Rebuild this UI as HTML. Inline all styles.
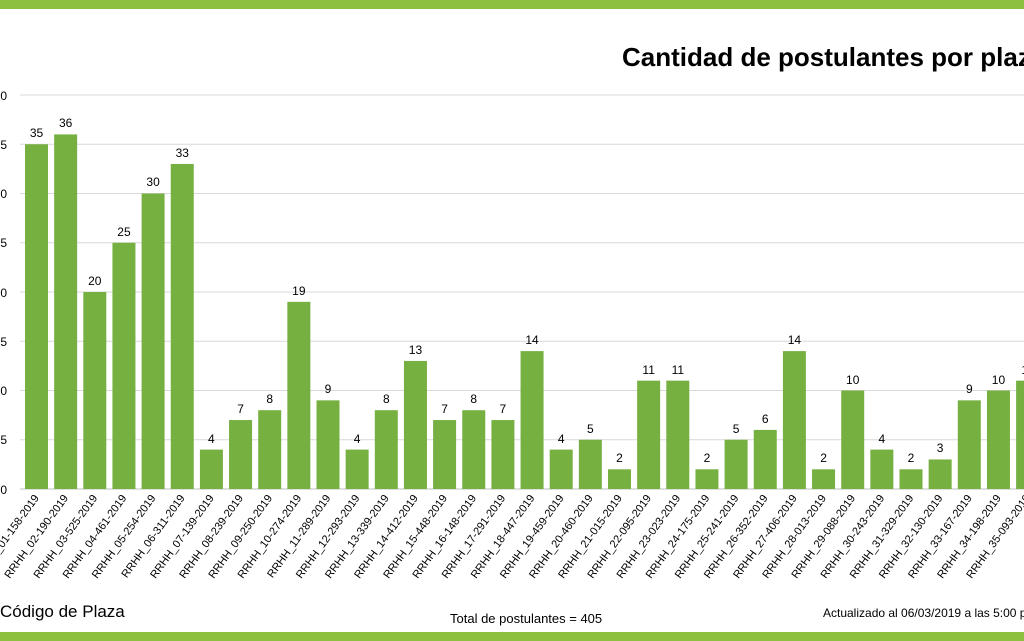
<!DOCTYPE html>
<html><head><meta charset="utf-8"><style>
body{margin:0;background:#fff;}
svg{display:block;font-family:"Liberation Sans","DejaVu Sans",sans-serif;}
</style></head><body>
<svg width="1024" height="641" viewBox="0 0 1024 641" xmlns="http://www.w3.org/2000/svg">
<rect x="0" y="0" width="1024" height="9" fill="#8dc03f"/>
<rect x="0" y="632" width="1024" height="9" fill="#8dc03f"/>
<text x="622" y="66" font-size="26" font-weight="bold" fill="#000">Cantidad de postulantes por plaza</text>
<g stroke="#d9d9d9" stroke-width="1">
<line x1="20" x2="1024" y1="95" y2="95"/>
<line x1="20" x2="1024" y1="144.25" y2="144.25"/>
<line x1="20" x2="1024" y1="193.5" y2="193.5"/>
<line x1="20" x2="1024" y1="242.75" y2="242.75"/>
<line x1="20" x2="1024" y1="292" y2="292"/>
<line x1="20" x2="1024" y1="341.25" y2="341.25"/>
<line x1="20" x2="1024" y1="390.5" y2="390.5"/>
<line x1="20" x2="1024" y1="439.75" y2="439.75"/>
<line x1="20" x2="1024" y1="489" y2="489" stroke="#bfbfbf"/>
</g>
<g font-size="12" text-anchor="end" fill="#000">
<text x="7" y="100">40</text><text x="7" y="149">35</text><text x="7" y="198">30</text>
<text x="7" y="247">25</text><text x="7" y="297">20</text><text x="7" y="346">15</text>
<text x="7" y="395">10</text><text x="7" y="444">5</text><text x="7" y="494">0</text>
</g>
<g transform="translate(0,489) scale(1,-9.85)" fill="#76b041">
<rect x="25" y="0" width="23" height="35"/>
<rect x="54.15" y="0" width="23" height="36"/>
<rect x="83.3" y="0" width="23" height="20"/>
<rect x="112.45" y="0" width="23" height="25"/>
<rect x="141.6" y="0" width="23" height="30"/>
<rect x="170.75" y="0" width="23" height="33"/>
<rect x="199.9" y="0" width="23" height="4"/>
<rect x="229.05" y="0" width="23" height="7"/>
<rect x="258.2" y="0" width="23" height="8"/>
<rect x="287.35" y="0" width="23" height="19"/>
<rect x="316.5" y="0" width="23" height="9"/>
<rect x="345.65" y="0" width="23" height="4"/>
<rect x="374.8" y="0" width="23" height="8"/>
<rect x="403.95" y="0" width="23" height="13"/>
<rect x="433.1" y="0" width="23" height="7"/>
<rect x="462.25" y="0" width="23" height="8"/>
<rect x="491.4" y="0" width="23" height="7"/>
<rect x="520.55" y="0" width="23" height="14"/>
<rect x="549.7" y="0" width="23" height="4"/>
<rect x="578.85" y="0" width="23" height="5"/>
<rect x="608" y="0" width="23" height="2"/>
<rect x="637.15" y="0" width="23" height="11"/>
<rect x="666.3" y="0" width="23" height="11"/>
<rect x="695.45" y="0" width="23" height="2"/>
<rect x="724.6" y="0" width="23" height="5"/>
<rect x="753.75" y="0" width="23" height="6"/>
<rect x="782.9" y="0" width="23" height="14"/>
<rect x="812.05" y="0" width="23" height="2"/>
<rect x="841.2" y="0" width="23" height="10"/>
<rect x="870.35" y="0" width="23" height="4"/>
<rect x="899.5" y="0" width="23" height="2"/>
<rect x="928.65" y="0" width="23" height="3"/>
<rect x="957.8" y="0" width="23" height="9"/>
<rect x="986.95" y="0" width="23" height="10"/>
<rect x="1016.1" y="0" width="23" height="11"/>
</g>
<g font-size="12" text-anchor="middle" fill="#000">
<text x="36.5" y="137">35</text>
<text x="65.65" y="127">36</text>
<text x="94.8" y="285">20</text>
<text x="123.95" y="236">25</text>
<text x="153.1" y="186">30</text>
<text x="182.25" y="157">33</text>
<text x="211.4" y="443">4</text>
<text x="240.55" y="413">7</text>
<text x="269.7" y="403">8</text>
<text x="298.85" y="295">19</text>
<text x="328" y="393">9</text>
<text x="357.15" y="443">4</text>
<text x="386.3" y="403">8</text>
<text x="415.45" y="354">13</text>
<text x="444.6" y="413">7</text>
<text x="473.75" y="403">8</text>
<text x="502.9" y="413">7</text>
<text x="532.05" y="344">14</text>
<text x="561.2" y="443">4</text>
<text x="590.35" y="433">5</text>
<text x="619.5" y="462">2</text>
<text x="648.65" y="374">11</text>
<text x="677.8" y="374">11</text>
<text x="706.95" y="462">2</text>
<text x="736.1" y="433">5</text>
<text x="765.25" y="423">6</text>
<text x="794.4" y="344">14</text>
<text x="823.55" y="462">2</text>
<text x="852.7" y="384">10</text>
<text x="881.85" y="443">4</text>
<text x="911" y="462">2</text>
<text x="940.15" y="452">3</text>
<text x="969.3" y="393">9</text>
<text x="998.45" y="384">10</text>
<text x="1027.6" y="374">11</text>
</g>
<g font-size="11" text-anchor="end" fill="#000">
<text transform="translate(39.5,498) rotate(-54)">RRHH_01-158-2019</text>
<text transform="translate(68.65,498) rotate(-54)">RRHH_02-190-2019</text>
<text transform="translate(97.8,498) rotate(-54)">RRHH_03-525-2019</text>
<text transform="translate(126.95,498) rotate(-54)">RRHH_04-461-2019</text>
<text transform="translate(156.1,498) rotate(-54)">RRHH_05-254-2019</text>
<text transform="translate(185.25,498) rotate(-54)">RRHH_06-311-2019</text>
<text transform="translate(214.4,498) rotate(-54)">RRHH_07-139-2019</text>
<text transform="translate(243.55,498) rotate(-54)">RRHH_08-239-2019</text>
<text transform="translate(272.7,498) rotate(-54)">RRHH_09-250-2019</text>
<text transform="translate(301.85,498) rotate(-54)">RRHH_10-274-2019</text>
<text transform="translate(331,498) rotate(-54)">RRHH_11-289-2019</text>
<text transform="translate(360.15,498) rotate(-54)">RRHH_12-293-2019</text>
<text transform="translate(389.3,498) rotate(-54)">RRHH_13-339-2019</text>
<text transform="translate(418.45,498) rotate(-54)">RRHH_14-412-2019</text>
<text transform="translate(447.6,498) rotate(-54)">RRHH_15-448-2019</text>
<text transform="translate(476.75,498) rotate(-54)">RRHH_16-148-2019</text>
<text transform="translate(505.9,498) rotate(-54)">RRHH_17-291-2019</text>
<text transform="translate(535.05,498) rotate(-54)">RRHH_18-447-2019</text>
<text transform="translate(564.2,498) rotate(-54)">RRHH_19-459-2019</text>
<text transform="translate(593.35,498) rotate(-54)">RRHH_20-460-2019</text>
<text transform="translate(622.5,498) rotate(-54)">RRHH_21-015-2019</text>
<text transform="translate(651.65,498) rotate(-54)">RRHH_22-095-2019</text>
<text transform="translate(680.8,498) rotate(-54)">RRHH_23-023-2019</text>
<text transform="translate(709.95,498) rotate(-54)">RRHH_24-175-2019</text>
<text transform="translate(739.1,498) rotate(-54)">RRHH_25-241-2019</text>
<text transform="translate(768.25,498) rotate(-54)">RRHH_26-352-2019</text>
<text transform="translate(797.4,498) rotate(-54)">RRHH_27-406-2019</text>
<text transform="translate(826.55,498) rotate(-54)">RRHH_28-013-2019</text>
<text transform="translate(855.7,498) rotate(-54)">RRHH_29-088-2019</text>
<text transform="translate(884.85,498) rotate(-54)">RRHH_30-243-2019</text>
<text transform="translate(914,498) rotate(-54)">RRHH_31-329-2019</text>
<text transform="translate(943.15,498) rotate(-54)">RRHH_32-130-2019</text>
<text transform="translate(972.3,498) rotate(-54)">RRHH_33-167-2019</text>
<text transform="translate(1001.45,498) rotate(-54)">RRHH_34-198-2019</text>
<text transform="translate(1030.6,498) rotate(-54)">RRHH_35-093-2019</text>
</g>
<text x="0" y="617" font-size="17" fill="#000">Código de Plaza</text>
<text x="450" y="623" font-size="13" fill="#000">Total de postulantes = 405</text>
<text x="823" y="617" font-size="12" fill="#000">Actualizado al 06/03/2019  a las 5:00 pm</text>
</svg>
</body></html>
